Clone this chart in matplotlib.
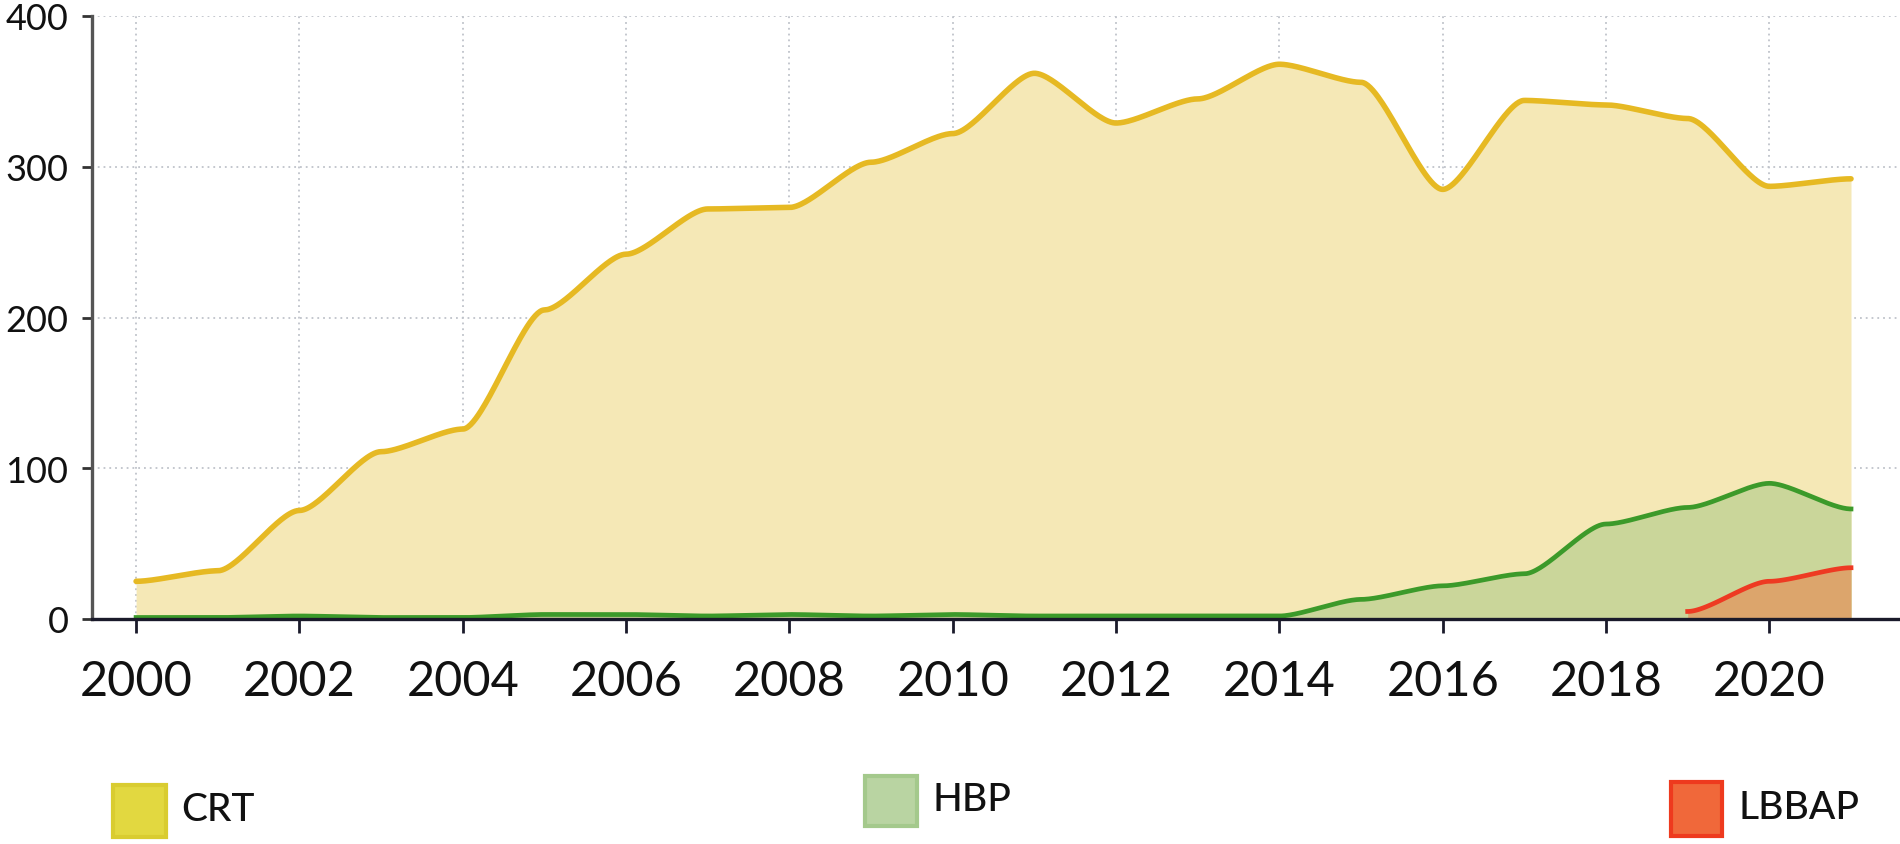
import numpy as np
import matplotlib
matplotlib.use("Agg")
import matplotlib.pyplot as plt
from matplotlib.patches import Rectangle

# ==========================
# Data
# ==========================
years = list(range(2000, 2022))
crt = [25, 32, 72, 111, 126, 205, 242, 272, 273, 303, 322, 362,
       329, 345, 368, 356, 285, 344, 341, 332, 287, 292]
hbp = [1, 1, 2, 1, 1, 3, 3, 2, 3, 2, 3, 2,
       2, 2, 2, 13, 22, 30, 63, 74, 90, 73]
lbbap_years = [2019, 2020, 2021]
lbbap = [5, 25, 34]

series_names = ["CRT", "HBP", "LBBAP"]


# ==========================
# Smooth curve through the points: cubic bezier segments with flat
# handles at each point (short handles -> rounded polyline look)
# ==========================
def smooth_curve(x, y, handle=0.25, steps=60):
    x = np.asarray(x, dtype=float)
    y = np.asarray(y, dtype=float)
    xs, ys = [], []
    for i in range(len(x) - 1):
        h = x[i + 1] - x[i]
        t = np.linspace(0, 1, steps, endpoint=(i == len(x) - 2))
        px = [x[i], x[i] + handle * h, x[i + 1] - handle * h, x[i + 1]]
        py = [y[i], y[i], y[i + 1], y[i + 1]]
        b = [(1 - t)**3, 3 * t * (1 - t)**2, 3 * t**2 * (1 - t), t**3]
        xs.append(sum(bk * pk for bk, pk in zip(b, px)))
        ys.append(sum(bk * pk for bk, pk in zip(b, py)))
    return np.concatenate(xs), np.concatenate(ys)


plt.rcParams["font.family"] = ["Lato", "DejaVu Sans"]

W, H = 1900, 845
fig = plt.figure(figsize=(W / 100, H / 100), dpi=100)
ax = fig.add_axes([92 / W, 1 - 620 / H, (W - 92) / W, 603 / H])

# ==========================
# Areas
# ==========================
cx, cy = smooth_curve(years, crt)
ax.fill_between(cx, 0, cy, color="#F5E8B6", lw=0, zorder=1)
ax.plot(cx, cy, color="#E6B923", lw=4, zorder=4, solid_capstyle="round")

hx, hy = smooth_curve(years, hbp)
ax.fill_between(hx, 0, hy, color="#CAD69A", lw=0, zorder=2)
ax.plot(hx, hy, color="#3C9A2A", lw=3.4, zorder=5)

lx, ly = smooth_curve(lbbap_years, lbbap)
ax.fill_between(lx, 0, ly, color="#DCA56C", lw=0, zorder=3)
ax.plot(lx, ly, color="#EE3A22", lw=3.4, zorder=6)

# ==========================
# Axes styling
# ==========================
ax.set_xlim(1999.46, 2021.6)
ax.set_ylim(0, 400)
ax.set_xticks(range(2000, 2021, 2))
ax.set_yticks([0, 100, 200, 300, 400])

ax.grid(True, color="#BFC3CA", lw=1.3, linestyle=(0, (1, 2.2)), zorder=0)
ax.set_axisbelow(True)

for side in ["top", "right"]:
    ax.spines[side].set_visible(False)
ax.spines["left"].set_color("#555555")
ax.spines["left"].set_linewidth(2.4)
ax.spines["bottom"].set_color("#1A1A2A")
ax.spines["bottom"].set_linewidth(2.4)
ax.spines["bottom"].set_linestyle((0, (3, 1)))
ax.spines["bottom"].set_zorder(7)

ax.tick_params(axis="x", length=10, width=2, color="#1A1A2A",
               labelsize=35, pad=19, labelcolor="#111111")
ax.tick_params(axis="y", length=7, width=2, color="#333333",
               labelsize=26, pad=10, labelcolor="#111111")

# ==========================
# Legend (drawn by hand, spread out under the plot)
# ==========================
legend_items = [
    (113, 786, 53, 52, "#E2D840", "#D9CC30", 181, 811),
    (865, 777, 52, 50, "#B9D4A2", "#A4C98C", 933, 801),
    (1671, 783, 51, 54, "#F0683A", "#EE3A1E", 1738, 809),
]
for name, (px, py, pw, ph, fc, ec, tx, ty) in zip(series_names, legend_items):
    fig.add_artist(Rectangle((px / W, 1 - (py + ph) / H), pw / W, ph / H,
                             transform=fig.transFigure, facecolor=fc,
                             edgecolor=ec, lw=3))
    fig.text(tx / W, 1 - ty / H, name, fontsize=28, va="center", ha="left",
             color="#111111", fontweight="medium")

fig.savefig("out.png", dpi=100)
